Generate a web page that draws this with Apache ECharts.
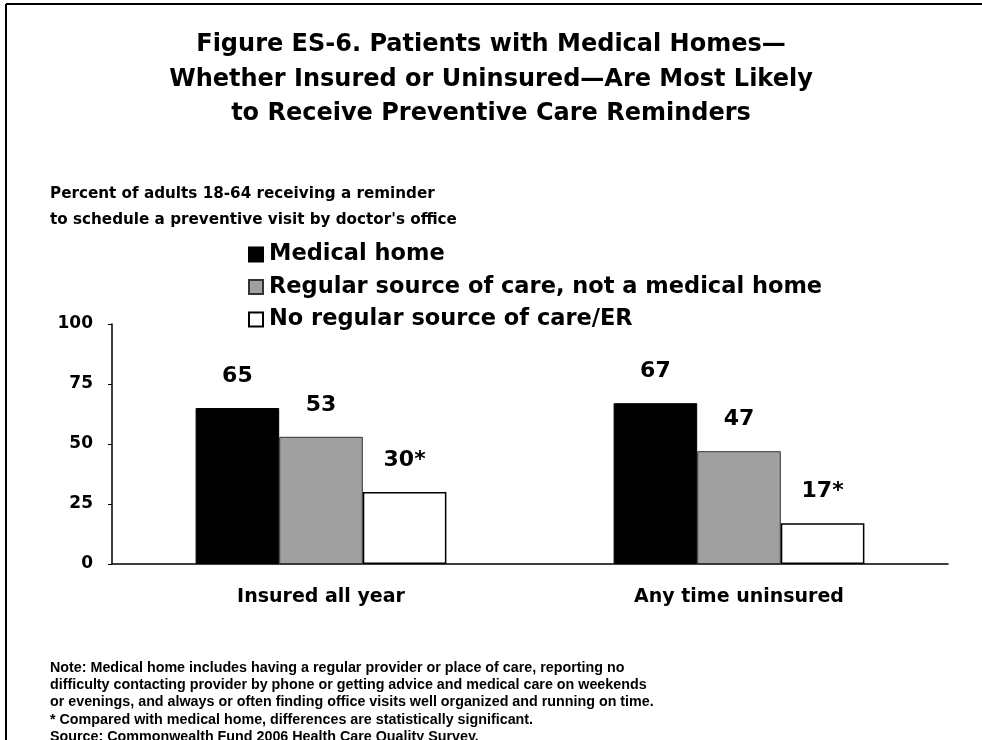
<!DOCTYPE html>
<html>
<head>
<meta charset="utf-8">
<script src="https://cdn.jsdelivr.net/npm/echarts@6/dist/echarts.min.js"></script>
<style>
    html, body { margin: 0; padding: 0; background: #fff; }
    #chart { width: 982px; height: 740px; }
</style>
</head>
<body>
<div id="chart"></div>
<script>
    // data
    const categories = ['Insured all year', 'Any time uninsured']
    const medicalHome = [65, 67]
    const regularSource = [53, 47]
    const noRegularSource = [30, 17]
    // significance markers for the "no regular source" bars
    const noRegularMarks = ['*', '*']
    const yTicks = [0, 25, 50, 75, 100]

    const seriesNames = [
        'Medical home',
        'Regular source of care, not a medical home',
        'No regular source of care/ER'
    ]

    const titleLines = [
        'Figure ES-6. Patients with Medical Homes—',
        'Whether Insured or Uninsured—Are Most Likely',
        'to Receive Preventive Care Reminders'
    ]

    const font = '"DejaVu Sans", "Liberation Sans", sans-serif'
    const narrow = '"Liberation Sans Narrow", "Arial Narrow", "Liberation Sans", sans-serif'

    const chart = echarts.init(document.getElementById('chart'))

    const labelStyle = {
        show: true,
        position: 'top',
        distance: 21,
        color: '#000',
        fontFamily: font,
        fontWeight: 'bold',
        fontSize: 22
    }

    // title lines, each centred on its own
    const titleGraphics = titleLines.map((line, i) => ({
        type: 'text',
        left: 'center',
        top: 33 + i * 34.5,
        style: {
            text: line,
            fontFamily: font,
            fontWeight: 'bold',
            fontSize: 24,
            fill: '#000'
        }
    }))

    const option = {
        backgroundColor: '#fff',
        animation: false,
        title: [
            {
                text: 'Percent of adults 18-64 receiving a reminder\nto schedule a preventive visit by doctor\'s office',
                left: 50,
                top: 181,
                padding: 0,
                textStyle: {
                    fontFamily: font,
                    fontWeight: 'bold',
                    fontSize: 15.2,
                    lineHeight: 26,
                    color: '#000'
                }
            },
            {
                text: 'Note: Medical home includes having a regular provider or place of care, reporting no\n' +
                    'difficulty contacting provider by phone or getting advice and medical care on weekends\n' +
                    'or evenings, and always or often finding office visits well organized and running on time.\n' +
                    '* Compared with medical home, differences are statistically significant.\n' +
                    'Source: Commonwealth Fund 2006 Health Care Quality Survey.',
                left: 50,
                top: 659,
                padding: 0,
                textStyle: {
                    fontFamily: narrow,
                    fontWeight: 'bold',
                    fontSize: 14.3,
                    lineHeight: 17.4,
                    color: '#000'
                }
            }
        ],
        legend: {
            orient: 'vertical',
            left: 243,
            top: 238,
            itemWidth: 14,
            itemHeight: 14,
            itemGap: 9.5,
            icon: 'rect',
            textStyle: {
                fontFamily: font,
                fontWeight: 'bold',
                fontSize: 22.5,
                color: '#000',
                padding: [0, 0, 0, 1]
            },
            data: seriesNames
        },
        grid: {
            left: 112,
            right: 34,
            top: 324,
            bottom: 176
        },
        xAxis: {
            type: 'category',
            data: categories,
            axisLine: { lineStyle: { color: '#000', width: 1.5 } },
            axisTick: { show: false },
            axisLabel: {
                margin: 24,
                color: '#000',
                fontFamily: font,
                fontWeight: 'bold',
                fontSize: 19
            }
        },
        yAxis: {
            type: 'value',
            min: yTicks[0],
            max: yTicks[yTicks.length - 1],
            interval: 25,
            splitLine: { show: false },
            axisLine: { show: true, lineStyle: { color: '#000', width: 1.5 } },
            axisTick: { show: true, length: 4, lineStyle: { color: '#000' } },
            axisLabel: {
                margin: 19,
                color: '#000',
                fontFamily: font,
                fontWeight: 'bold',
                fontSize: 17
            }
        },
        series: [
            {
                name: seriesNames[0],
                type: 'bar',
                barGap: 0,
                barCategoryGap: '40%',
                data: medicalHome,
                itemStyle: { color: '#000', borderColor: '#000', borderWidth: 1 },
                label: labelStyle
            },
            {
                name: seriesNames[1],
                type: 'bar',
                data: regularSource,
                itemStyle: { color: '#a0a0a0', borderColor: '#333', borderWidth: 1 },
                label: labelStyle
            },
            {
                name: seriesNames[2],
                type: 'bar',
                data: noRegularSource,
                itemStyle: { color: '#fff', borderColor: '#000', borderWidth: 1.5 },
                label: Object.assign({}, labelStyle, {
                    formatter: p => p.value + noRegularMarks[p.dataIndex]
                })
            }
        ],
        graphic: titleGraphics.concat([
            // page frame
            {
                type: 'line',
                shape: { x1: 6, y1: 4, x2: 982, y2: 4 },
                style: { stroke: '#000', lineWidth: 2 }
            },
            {
                type: 'line',
                shape: { x1: 6, y1: 4, x2: 6, y2: 740 },
                style: { stroke: '#000', lineWidth: 2 }
            }
        ])
    }

    chart.setOption(option)
</script>
</body>
</html>
